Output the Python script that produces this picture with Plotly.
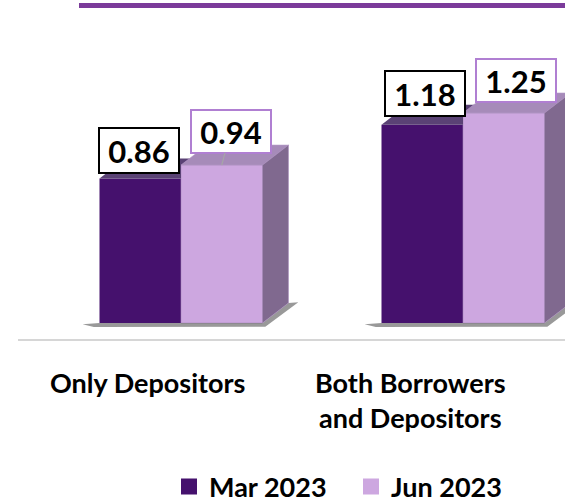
import plotly.graph_objects as go

# ---------------- data ----------------
categories = ["Only Depositors", "Both Borrowers<br>and Depositors"]
series_names = ["Mar 2023", "Jun 2023"]
mar_2023 = [0.86, 1.18]
jun_2023 = [0.94, 1.25]
value_labels_mar = ["0.86", "1.18"]
value_labels_jun = ["0.94", "1.25"]

# ---------------- style ----------------
FONT = "Lato"
MAR_FRONT = "#45116d"
MAR_TOP = "#5a4275"
JUN_FRONT = "#cda7e0"
JUN_TOP = "#a68bb9"
JUN_SIDE = "#80698f"
JUN_BORDER = "#b07fd2"
BAR_W = 0.289          # width of one bar in category units
DX, DY = 0.092, 0.119  # 3-D depth offset (x in category units, y in value units)

W, H = 565, 503
cat_pos = list(range(len(categories)))

fig = go.Figure()

# floor shadows
for i, c in enumerate(cat_pos):
    x0, x2 = c - BAR_W, c + BAR_W
    fig.add_trace(go.Scatter(
        x=[x0 - 0.06, x0, x2, x2 + DX, x2 + DX + 0.035, x2 + 0.01, x0 - 0.02, x0 - 0.06],
        y=[-0.008, 0, 0, DY, DY + 0.005, -0.022, -0.024, -0.008],
        fill="toself", mode="lines", line=dict(width=0),
        fillcolor="rgba(70,70,70,0.55)", showlegend=False, hoverinfo="skip"))

# front faces (the bars)
fig.add_trace(go.Bar(x=cat_pos, y=mar_2023, name=series_names[0], marker=dict(color=MAR_FRONT, line=dict(width=0)),
                     showlegend=False, hoverinfo="skip"))
fig.add_trace(go.Bar(x=cat_pos, y=jun_2023, name=series_names[1], marker=dict(color=JUN_FRONT, line=dict(width=0.6, color="#a98abd")),
                     showlegend=False, hoverinfo="skip"))

# top and side faces computed from the values
for i, c in enumerate(cat_pos):
    x0, x1, x2 = c - BAR_W, c, c + BAR_W
    v1, v2 = mar_2023[i], jun_2023[i]
    if v2 >= v1 + DY:
        mx = [x0, x1, x1, x0 + DX, x0]
        my = [v1, v1, v1 + DY, v1 + DY, v1]
    else:
        t = max(v2 - v1, 0) / DY
        mx = [x0, x1, x1, x1 + DX * t, x1 + DX, x0 + DX, x0]
        my = [v1, v1, max(v2, v1), max(v2, v1), v1 + DY, v1 + DY, v1]
    fig.add_trace(go.Scatter(x=mx, y=my, fill="toself", mode="lines", line=dict(width=0),
                             fillcolor=MAR_TOP, showlegend=False, hoverinfo="skip"))
    fig.add_trace(go.Scatter(x=[x1, x2, x2 + DX, x1 + DX, x1], y=[v2, v2, v2 + DY, v2 + DY, v2],
                             fill="toself", mode="lines", line=dict(width=0.6, color="#b79ac9"),
                             fillcolor=JUN_TOP, showlegend=False, hoverinfo="skip"))
    fig.add_trace(go.Scatter(x=[x2, x2 + DX, x2 + DX, x2, x2], y=[0, DY, v2 + DY, v2, 0],
                             fill="toself", mode="lines", line=dict(width=0.6, color="#a88cbc"),
                             fillcolor=JUN_SIDE, showlegend=False, hoverinfo="skip"))

# legend entries
fig.add_trace(go.Scatter(x=[None], y=[None], mode="markers", name=series_names[0],
                         marker=dict(symbol="square", size=17, color=MAR_FRONT)))
fig.add_trace(go.Scatter(x=[None], y=[None], mode="markers", name=series_names[1],
                         marker=dict(symbol="square", size=17, color=JUN_FRONT)))

# value labels
label_style = [  # (dx px, dy px, border colour, leader)
    [(-1.5, -28, "black", False), (2.5, -31, "black", False)],
    [(9, -34, JUN_BORDER, True), (12, -32.5, JUN_BORDER, False)],
]
for s, (vals, texts) in enumerate([(mar_2023, value_labels_mar), (jun_2023, value_labels_jun)]):
    for i, c in enumerate(cat_pos):
        bx = c - BAR_W / 2 if s == 0 else c + BAR_W / 2
        ox, oy, bc, leader = label_style[s][i]
        common = dict(x=bx, y=vals[i], xref="x", yref="y", text="<b>%s</b>" % texts[i],
                      font=dict(family=FONT, size=31, color="black"),
                      bgcolor="white", bordercolor=bc, borderwidth=2, borderpad=0,
                      width=78, height=43 if s == 0 else 41)
        if leader:
            fig.add_annotation(**common, showarrow=True, ax=ox, ay=oy, axref="pixel", ayref="pixel",
                               arrowhead=0, arrowwidth=1.2, arrowcolor="#a6a6a6")
        else:
            fig.add_annotation(**common, showarrow=False, xanchor="center", yanchor="middle",
                               xshift=ox, yshift=-oy)

# category labels
cat_shift = [-34, -53]
for i, c in enumerate(cat_pos):
    fig.add_annotation(x=c, y=(H - 364) / H, xref="x", yref="paper", text="<b>%s</b>" % categories[i],
                       showarrow=False, xanchor="center", yanchor="top", xshift=cat_shift[i],
                       font=dict(family=FONT, size=27, color="black"), align="center")

# decorative lines
fig.add_shape(type="rect", xref="paper", yref="paper", x0=79 / W, x1=1, y0=(H - 8) / H, y1=(H - 3) / H,
              fillcolor="#7b3b9a", line=dict(width=0))
fig.add_shape(type="line", xref="paper", yref="paper", x0=18 / W, x1=1, y0=(H - 340) / H, y1=(H - 340) / H,
              line=dict(color="#d6d6d6", width=2))

x_left = -(181) / 282
x_right = (W - 181) / 282
y_max = 323 / 168
y_min = (323 - H) / 168

fig.update_layout(
    width=W, height=H,
    margin=dict(l=0, r=0, t=0, b=0, autoexpand=False),
    paper_bgcolor="white", plot_bgcolor="white",
    barmode="group", bargap=1 - 2 * BAR_W, bargroupgap=0,
    xaxis=dict(range=[x_left, x_right], visible=False, fixedrange=True),
    yaxis=dict(range=[y_min, y_max], visible=False, fixedrange=True),
    showlegend=True,
    legend=dict(orientation="h", x=169 / W, xanchor="left", y=16 / H, yanchor="middle",
                font=dict(family=FONT, size=27, color="black", weight="bold"),
                entrywidth=137, entrywidthmode="pixels", itemsizing="trace",
                bgcolor="rgba(0,0,0,0)", borderwidth=0),
    hovermode=False,
)

fig.write_html("out.html", config={"displayModeBar": False},
               post_script="document.body.style.margin='0';document.body.style.padding='0';document.body.style.overflow='hidden';")
